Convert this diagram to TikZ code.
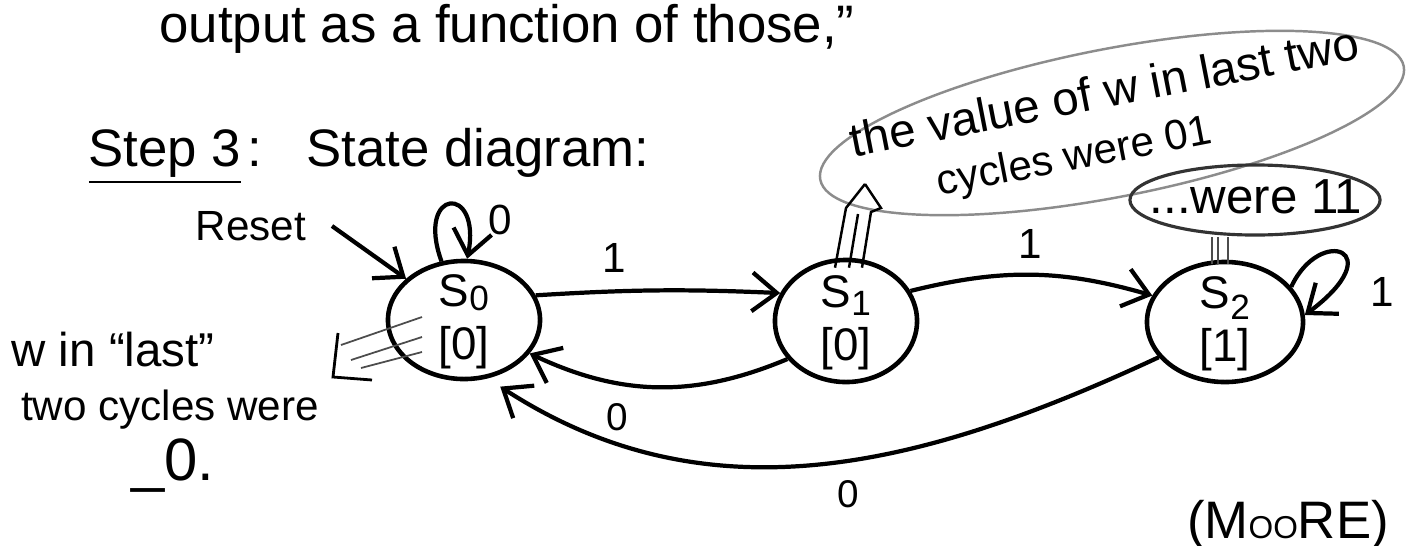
\documentclass[tikz,border=0pt]{standalone}
\usepackage{fontspec}
\setmainfont{Liberation Sans}
\usetikzlibrary{shapes.geometric,arrows.meta,calc}
\tikzset{
  state/.style={draw, ellipse, line width=1.3pt, inner sep=0pt, font=\fontsize{13}{14}\selectfont},
  conn/.style={line width=1.2pt, -{Straight Barb[length=7pt,width=11pt]}},
  lbl/.style={inner sep=0pt, font=\fontsize{12}{12}\selectfont},
  hand/.style={inner sep=0pt, anchor=base},
  faint/.style={line width=0.5pt, black!70},
  triple/.style={line width=0.7pt},
  bubble/.style={draw, ellipse, inner sep=0pt},
}
\newcommand{\stlabel}[3]{\smash{\raisebox{-4pt}{\begin{tabular}{@{}c@{}}S\raisebox{#2}{\fontsize{10}{10}\selectfont #1}\\[1pt] {[#3]}\end{tabular}}}}
\begin{document}
\begin{tikzpicture}[x=0.01cm,y=-0.01cm]
\useasboundingbox (0,0) rectangle (1421,545);

% header texts
\node[hand, font=\fontsize{15}{15}\selectfont] (t1) at (507,42) {output as a function of those,”};
\node[hand, font=\fontsize{15}{15}\selectfont] (step) at (165,166) {\underline{Step 3}};
\node[hand, font=\fontsize{15}{15}\selectfont] (colon) at (255,166) {:};
\node[hand, font=\fontsize{15}{15}\selectfont] (sd) at (478,166) {State diagram:};
\node[hand, font=\fontsize{12}{12}\selectfont] (reset) at (251,240) {Reset};

% left note
\node[hand, font=\fontsize{13.5}{13.5}\selectfont] (n1) at (113,366) {w in “last”};
\node[hand, font=\fontsize{12}{12}\selectfont] (n2) at (170,420) {two cycles were};
\node[hand, font=\fontsize{17}{17}\selectfont] (n3) at (173,480) {\_0.};

\node[hand, font=\fontsize{15}{15}\selectfont] (moore) at (1288,538) {(M{\fontsize{9}{9}\selectfont OO}RE)};

% states
\node[state, minimum width=1.52cm, minimum height=1.18cm] (S0) at (464,320) {\stlabel{0}{-1pt}{0}};
\node[state, minimum width=1.42cm, minimum height=1.22cm] (S1) at (846,321) {\stlabel{1}{-2pt}{0}};
\node[state, minimum width=1.56cm, minimum height=1.20cm] (S2) at (1225,322) {\stlabel{2}{-3pt}{1}};

% bubbles
\node[bubble, draw=black!45, line width=0.7pt, rotate=11, minimum width=5.94cm, minimum height=1.48cm] (cloud) at (1112,123) {};
\node[inner sep=0pt, rotate=11, align=left, font=\fontsize{13.5}{15.5}\selectfont] (c1) at (1110,122)
  {the value of w in last two\\\hspace*{22pt}{\fontsize{12}{15.5}\selectfont cycles were 01}};
\node[bubble, line width=0.9pt, draw=black!80, minimum width=2.5cm, minimum height=0.7cm] (e11) at (1255,200) {};
\node[hand, font=\fontsize{14}{14}\selectfont] (e11t) at (1256,213) {...were 11};

% transitions
\coordinate (rs) at (332,226);
\draw[conn] (rs) -- (S0);
\draw[conn] (S0.111) .. controls (415,188) and (482,183) .. (S0.87);
\node[lbl] (l0) at (500,220) {0};
\draw[conn] (S0.19) to[bend left=3] (S1.157);
\node[lbl] (la) at (614,258) {1};
\draw[conn] (S1.25) to[bend left=15] (S2.160);
\node[lbl] (lb) at (1030,244) {1};
\draw[conn] (S2.28) .. controls (1320,225) and (1392,250) .. (S2.5);
\node[lbl] (lc) at (1382,292) {1};
\draw[conn] (S1.213) to[bend left=24] (S0.-27);
\node[lbl, font=\fontsize{11}{11}\selectfont] (ld) at (617,417) {0};
\draw[conn, shorten >=0.15cm] (S2.208) to[out=205,in=-33] (S0.292);
\node[lbl, font=\fontsize{11}{11}\selectfont] (le) at (848,494) {0};

% triple arrow S1 -> cloud
\coordinate (tip1) at (865,184);
\draw[triple] ($(S1.north)+(-11,10)$) -- (846,208) -- (tip1);
\draw[triple] ($(S1.north)+(3,10)$) -- (858,214);
\draw[triple] ($(S1.north)+(16,10)$) -- (871,212) -- (881,208) -- (tip1);

% triple link S2 -> e11
\coordinate (q1) at ($(S2.north)+(-13,4)$);
\coordinate (q2) at ($(S2.north)+(-7,4)$);
\coordinate (q3) at ($(S2.north)+(3,4)$);
\draw[faint] (q1) -- (q1 |- e11.south);
\draw[faint] (q2) -- (q2 |- e11.south);
\draw[faint] (q3) -- (q3 |- e11.south);

% triple arrow S0 -> left note
\coordinate (hk) at (333,377);
\draw[faint] ($(S0.center)+(-42,-3)$) -- (341,345);
\draw[faint] ($(S0.center)+(-42,17)$) -- (351,360);
\draw[faint] ($(S0.center)+(-42,32)$) -- (361,368);
\draw[line width=0.8pt] (338,333) -- (hk) -- (372,380);
\end{tikzpicture}
\end{document}
